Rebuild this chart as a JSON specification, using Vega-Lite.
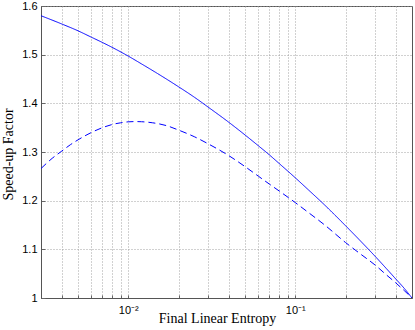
{
  "$schema": "https://vega.github.io/schema/vega-lite/v6.json",
  "width": 371,
  "height": 292,
  "autosize": "none",
  "padding": {"left": 41, "top": 6, "right": 3, "bottom": 32},
  "background": "white",
  "config": {
    "view": {"stroke": "#555", "strokeWidth": 1},
    "axis": {
      "domainColor": "#555",
      "tickColor": "#666",
      "gridColor": "#999",
      "gridDash": [1, 2],
      "gridWidth": 1,
      "gridOpacity": 0.9,
      "labelFont": "Liberation Sans",
      "labelFontSize": 11,
      "labelColor": "black",
      "titleFont": "Liberation Serif",
      "titleFontSize": 14,
      "titleFontWeight": "normal",
      "titleColor": "black"
    }
  },
  "data": {
    "values": [
      {"x": 0.003, "y": 1.58, "s": "solid"},
      {"x": 0.004, "y": 1.563, "s": "solid"},
      {"x": 0.005, "y": 1.549, "s": "solid"},
      {"x": 0.006, "y": 1.536, "s": "solid"},
      {"x": 0.007, "y": 1.525, "s": "solid"},
      {"x": 0.008, "y": 1.515, "s": "solid"},
      {"x": 0.01, "y": 1.497, "s": "solid"},
      {"x": 0.012, "y": 1.481, "s": "solid"},
      {"x": 0.015, "y": 1.461, "s": "solid"},
      {"x": 0.02, "y": 1.434, "s": "solid"},
      {"x": 0.025, "y": 1.412, "s": "solid"},
      {"x": 0.03, "y": 1.3925, "s": "solid"},
      {"x": 0.04, "y": 1.361, "s": "solid"},
      {"x": 0.05, "y": 1.335, "s": "solid"},
      {"x": 0.06, "y": 1.313, "s": "solid"},
      {"x": 0.07, "y": 1.294, "s": "solid"},
      {"x": 0.08, "y": 1.2765, "s": "solid"},
      {"x": 0.1, "y": 1.247, "s": "solid"},
      {"x": 0.12, "y": 1.222, "s": "solid"},
      {"x": 0.15, "y": 1.191, "s": "solid"},
      {"x": 0.2, "y": 1.1485, "s": "solid"},
      {"x": 0.25, "y": 1.1145, "s": "solid"},
      {"x": 0.3, "y": 1.086, "s": "solid"},
      {"x": 0.35, "y": 1.061, "s": "solid"},
      {"x": 0.4, "y": 1.039, "s": "solid"},
      {"x": 0.45, "y": 1.0195, "s": "solid"},
      {"x": 0.5, "y": 1.0, "s": "solid"},
      {"x": 0.003, "y": 1.266, "s": "dashed"},
      {"x": 0.0035, "y": 1.287, "s": "dashed"},
      {"x": 0.004, "y": 1.302, "s": "dashed"},
      {"x": 0.0045, "y": 1.315, "s": "dashed"},
      {"x": 0.005, "y": 1.325, "s": "dashed"},
      {"x": 0.006, "y": 1.34, "s": "dashed"},
      {"x": 0.007, "y": 1.35, "s": "dashed"},
      {"x": 0.008, "y": 1.3565, "s": "dashed"},
      {"x": 0.009, "y": 1.36, "s": "dashed"},
      {"x": 0.01, "y": 1.362, "s": "dashed"},
      {"x": 0.011, "y": 1.3625, "s": "dashed"},
      {"x": 0.012, "y": 1.3622, "s": "dashed"},
      {"x": 0.014, "y": 1.36, "s": "dashed"},
      {"x": 0.017, "y": 1.354, "s": "dashed"},
      {"x": 0.02, "y": 1.345, "s": "dashed"},
      {"x": 0.025, "y": 1.331, "s": "dashed"},
      {"x": 0.03, "y": 1.317, "s": "dashed"},
      {"x": 0.04, "y": 1.2925, "s": "dashed"},
      {"x": 0.05, "y": 1.27, "s": "dashed"},
      {"x": 0.06, "y": 1.2505, "s": "dashed"},
      {"x": 0.07, "y": 1.234, "s": "dashed"},
      {"x": 0.08, "y": 1.22, "s": "dashed"},
      {"x": 0.1, "y": 1.196, "s": "dashed"},
      {"x": 0.12, "y": 1.1755, "s": "dashed"},
      {"x": 0.15, "y": 1.15, "s": "dashed"},
      {"x": 0.2, "y": 1.114, "s": "dashed"},
      {"x": 0.25, "y": 1.0885, "s": "dashed"},
      {"x": 0.3, "y": 1.068, "s": "dashed"},
      {"x": 0.35, "y": 1.048, "s": "dashed"},
      {"x": 0.4, "y": 1.031, "s": "dashed"},
      {"x": 0.45, "y": 1.015, "s": "dashed"},
      {"x": 0.5, "y": 1.0, "s": "dashed"}
    ]
  },
  "mark": {"type": "line", "strokeWidth": 1, "color": "#0000ff", "clip": true, "interpolate": "monotone"},
  "encoding": {
    "x": {
      "field": "x",
      "type": "quantitative",
      "scale": {"type": "log", "domain": [0.003, 0.5], "nice": false},
      "axis": {
        "title": "Final Linear Entropy",
        "values": [0.004, 0.005, 0.006, 0.007, 0.008, 0.009, 0.01, 0.02, 0.03, 0.04, 0.05, 0.06, 0.07, 0.08, 0.09, 0.1, 0.2, 0.3, 0.4],
        "labelExpr": "datum.value == 0.01 ? '10⁻²' : (datum.value == 0.1 ? '10⁻¹' : '')",
        "labelOverlap": false,
        "labelFlush": false,
        "tickSize": -3,
        "labelPadding": 9,
        "titleX": 176,
        "titleY": 24.5,
        "titleBaseline": "alphabetic"
      }
    },
    "y": {
      "field": "y",
      "type": "quantitative",
      "scale": {"domain": [1, 1.6], "nice": false, "zero": false},
      "axis": {
        "title": "Speed-up Factor",
        "values": [1, 1.1, 1.2, 1.3, 1.4, 1.5, 1.6],
        "labelExpr": "datum.value == 1 ? '1' : format(datum.value, '.1f')",
        "tickSize": -4,
        "labelPadding": 8,
        "titleX": -28.5,
        "titleY": 148,
        "titleBaseline": "alphabetic"
      }
    },
    "strokeDash": {
      "field": "s",
      "type": "nominal",
      "scale": {"domain": ["solid", "dashed"], "range": [[1, 0], [7, 4]]},
      "legend": null
    }
  }
}
